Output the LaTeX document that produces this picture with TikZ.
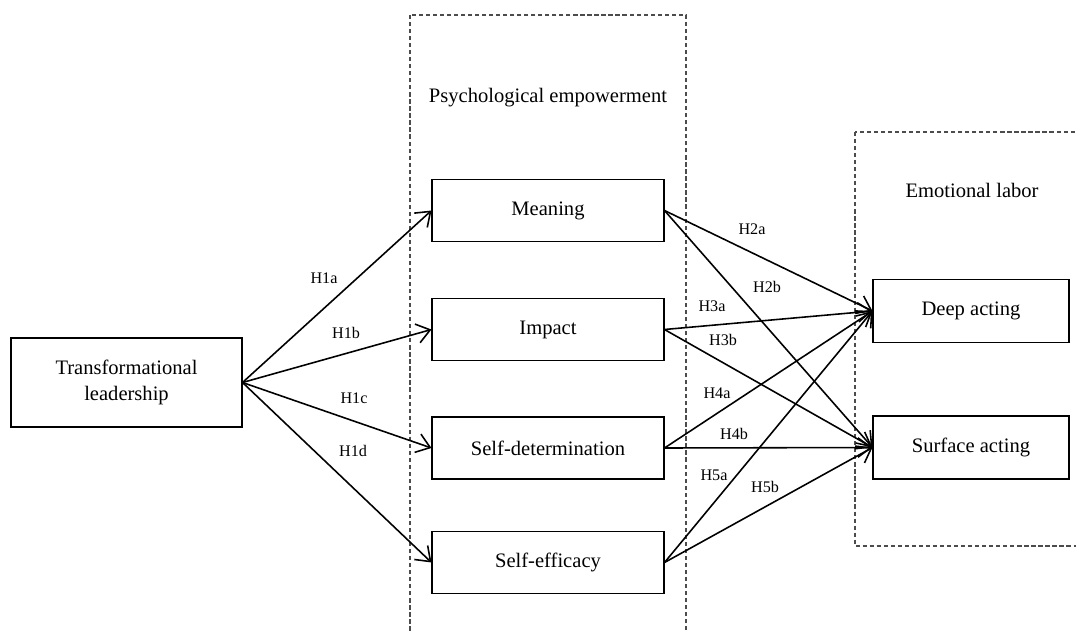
\documentclass[tikz,border=0pt]{standalone}
\usepackage{fontspec}
\setmainfont{Liberation Serif}
\usepackage{tikz}
\usetikzlibrary{positioning}
\usetikzlibrary{arrows.meta}
\tikzstyle{arrow}=[-{Straight Barb[length=7.5pt,width=11pt]},line width=0.9pt]
\tikzstyle{varbox}=[draw,line width=0.6pt,minimum width=4.64cm,minimum height=1.24cm,align=center,font=\fontsize{11.7}{14.7}\selectfont]
\tikzstyle{groupbox}=[draw=black!70,line width=0.6pt,dash pattern=on 2.4pt off 1.6pt]
\tikzstyle{hlab}=[font=\fontsize{9.2}{11}\selectfont]
\tikzstyle{grouplab}=[font=\fontsize{11.7}{14.7}\selectfont]

\begin{document}
\begin{tikzpicture}[x=0.02cm,y=-0.02cm]
		\useasboundingbox (0,0) rectangle (1076,632);
		\clip (0,0) rectangle (1076,632);
		% groups
		\draw[groupbox] (410,15) rectangle (686,645);
		\draw[groupbox] (855,132) rectangle (1085,546);
		\node[grouplab] (pe) at (548,98) {Psychological empowerment};
		\node[grouplab] (el) at (972,190) {Emotional labor};
		% variables
		\node[varbox,minimum width=4.62cm,minimum height=1.78cm] (tl) at (126.5,382.5) {Transformational\\leadership};
		\node[varbox] (mean) at (548,210.5) {Meaning};
		\node[varbox] (imp) at (548,329.5) {Impact};
		\node[varbox] (sdet) at (548,448) {Self-determination};
		\node[varbox] (seff) at (548,562.5) {Self-efficacy};
		\node[varbox,minimum width=3.92cm,minimum height=1.26cm] (deep) at (971,311) {Deep acting};
		\node[varbox,minimum width=3.92cm,minimum height=1.26cm] (surf) at (971,447.5) {Surface acting};
		% paths
		\foreach \t in {mean,imp,sdet,seff} {
			\draw[arrow] (tl.east)--(\t.west);}
		\foreach \s in {mean,imp,sdet,seff} {
			\draw[arrow] (\s.east)--(deep.west);
			\draw[arrow] (\s.east)--(surf.west);}
		% hypotheses
		\node[hlab] (h1a) at (324,278) {H1a};
		\node[hlab] (h1b) at (346,333) {H1b};
		\node[hlab] (h1c) at (354,398) {H1c};
		\node[hlab] (h1d) at (353,451) {H1d};
		\node[hlab] (h2a) at (752,229) {H2a};
		\node[hlab] (h2b) at (767,287) {H2b};
		\node[hlab] (h3a) at (712,306) {H3a};
		\node[hlab] (h3b) at (723,340) {H3b};
		\node[hlab] (h4a) at (717,393) {H4a};
		\node[hlab] (h4b) at (734,434) {H4b};
		\node[hlab] (h5a) at (714,475) {H5a};
		\node[hlab] (h5b) at (765,487) {H5b};
	\end{tikzpicture}
\end{document}
